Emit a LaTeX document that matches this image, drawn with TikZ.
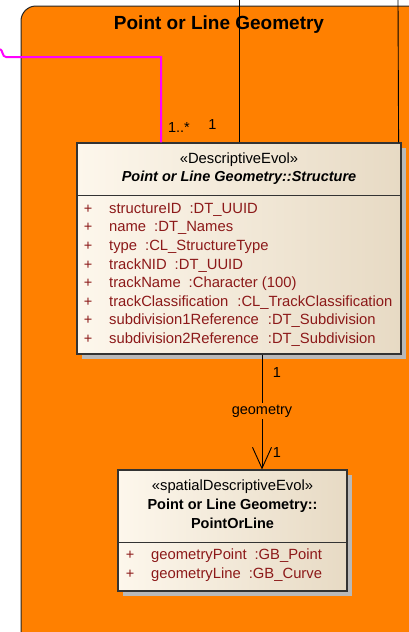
\documentclass[tikz,border=0pt]{standalone}
\usepackage{fontspec}
\setmainfont{Liberation Sans}
\usetikzlibrary{arrows.meta,calc}
\definecolor{pkgorange}{RGB}{255,128,0}
\definecolor{clsL}{RGB}{253,247,236}
\definecolor{clsR}{RGB}{231,218,196}
\definecolor{attr}{RGB}{140,25,25}
\definecolor{shadowgrey}{RGB}{185,185,185}
\definecolor{magentaline}{RGB}{255,0,255}
\begin{document}
\begin{tikzpicture}[x=1pt,y=-1pt,
  pkg/.style={draw=black!85, line width=1pt, fill=pkgorange, rounded corners=15pt},
  clsbox/.style={draw=black!80, line width=1.2pt, left color=clsL, right color=clsR, inner sep=0pt, rectangle},
  shadowbox/.style={fill=shadowgrey},
  txt/.style={font=\fontsize{14.5}{17}\selectfont, inner sep=0pt},
  attrtxt/.style={txt, font=\fontsize{14.8}{17}\selectfont, text=attr, anchor=base west},
  plus/.style={txt, text=attr, anchor=base},
  mult/.style={txt, anchor=base},
  conn/.style={line width=0.9pt, draw=black},
  sepline/.style={line width=1pt, draw=black!80}
]
\useasboundingbox (0,0) rectangle (409,632);
\begin{scope}
  \clip (0,0) rectangle (409,632);
  \draw[pkg] (21,6) rectangle (422,660);
\end{scope}
\node[font=\fontsize{19}{22}\selectfont\bfseries, anchor=base, inner sep=0pt] (title) at (219,29.3) {Point or Line Geometry};

% coordinates for free ends
\coordinate (top1) at (239,0);
\coordinate (top2) at (398,0);
\coordinate (mstart) at (0,49);

% Structure class
\fill[shadowbox] (82,148) rectangle (406,359);
\node[clsbox, minimum width=324pt, minimum height=211pt] (s) at (239,248.5) {};
\draw[sepline] (s.west |- 0,195) -- (s.east |- 0,195);
\node[txt, anchor=base, font=\fontsize{14.8}{17}\selectfont] (sst) at (239,163.5) {«DescriptiveEvol»};
\node[txt, anchor=base, font=\fontsize{14.5}{17}\selectfont\bfseries\itshape] (sname) at (239,181.7) {Point or Line Geometry::Structure};
\node[plus] (p1) at (88,213.3) {+};
\node[plus] (p2) at (88,231.9) {+};
\node[plus] (p3) at (88,250.4) {+};
\node[plus] (p4) at (88,269.0) {+};
\node[plus] (p5) at (88,287.6) {+};
\node[plus] (p6) at (88,306.2) {+};
\node[plus] (p7) at (88,324.7) {+};
\node[plus] (p8) at (88,343.3) {+};
\node[attrtxt] (a1) at (109,213.3) {structureID\hspace{8pt}:DT\_UUID};
\node[attrtxt] (a2) at (109,231.9) {name\hspace{8pt}:DT\_Names};
\node[attrtxt] (a3) at (109,250.4) {type\hspace{8pt}:CL\_StructureType};
\node[attrtxt] (a4) at (109,269.0) {trackNID\hspace{8pt}:DT\_UUID};
\node[attrtxt] (a5) at (109,287.6) {trackName\hspace{8pt}:Character (100)};
\node[attrtxt] (a6) at (109,306.2) {trackClassification\hspace{9pt}:CL\_TrackClassification};
\node[attrtxt] (a7) at (109,324.7) {subdivision1Reference\hspace{9pt}:DT\_Subdivision};
\node[attrtxt] (a8) at (109,343.3) {subdivision2Reference\hspace{9pt}:DT\_Subdivision};

% PointOrLine class
\fill[shadowbox] (123,475) rectangle (352,596);
\node[clsbox, minimum width=229pt, minimum height=121pt] (pol) at (232.5,530.5) {};
\draw[sepline] (pol.west |- 0,542) -- (pol.east |- 0,542);
\node[txt, anchor=base, font=\fontsize{14.8}{17}\selectfont] (pst) at (232.5,490) {«spatialDescriptiveEvol»};
\node[txt, anchor=base, font=\fontsize{14.5}{17}\selectfont\bfseries] (pname1) at (232.5,509.3) {Point or Line Geometry::};
\node[txt, anchor=base, font=\fontsize{14.5}{17}\selectfont\bfseries] (pname2) at (232.5,528.3) {PointOrLine};
\node[plus] (q1) at (130,559.3) {+};
\node[plus] (q2) at (130,578) {+};
\node[attrtxt] (b1) at (151,559.3) {geometryPoint\hspace{8pt}:GB\_Point};
\node[attrtxt] (b2) at (151,578) {geometryLine\hspace{8pt}:GB\_Curve};

% connectors
\draw[conn] (top1) -- (s.north);
\draw[conn] (top2) -- ([xshift=-3pt]s.north east);
\draw[magentaline, line width=2pt] (mstart) .. controls (3,50) and (2,57) .. (6,57) -- (161,57) -- ([xshift=-78pt]s.north);
\draw[conn, -{Straight Barb[length=21pt, width=19pt]}] ([xshift=23pt]s.south) -- ([xshift=29.5pt]pol.north);
\node[txt, fill=pkgorange, inner sep=2pt] (glab) at (262,411) {geometry};

% multiplicities
\node[mult] (m1) at (179,132) {1..*};
\node[mult] (m2) at (212.5,129.3) {1};
\node[mult] (m3) at (277,377) {1};
\node[mult] (m4) at (277,457) {1};
\end{tikzpicture}
\end{document}
